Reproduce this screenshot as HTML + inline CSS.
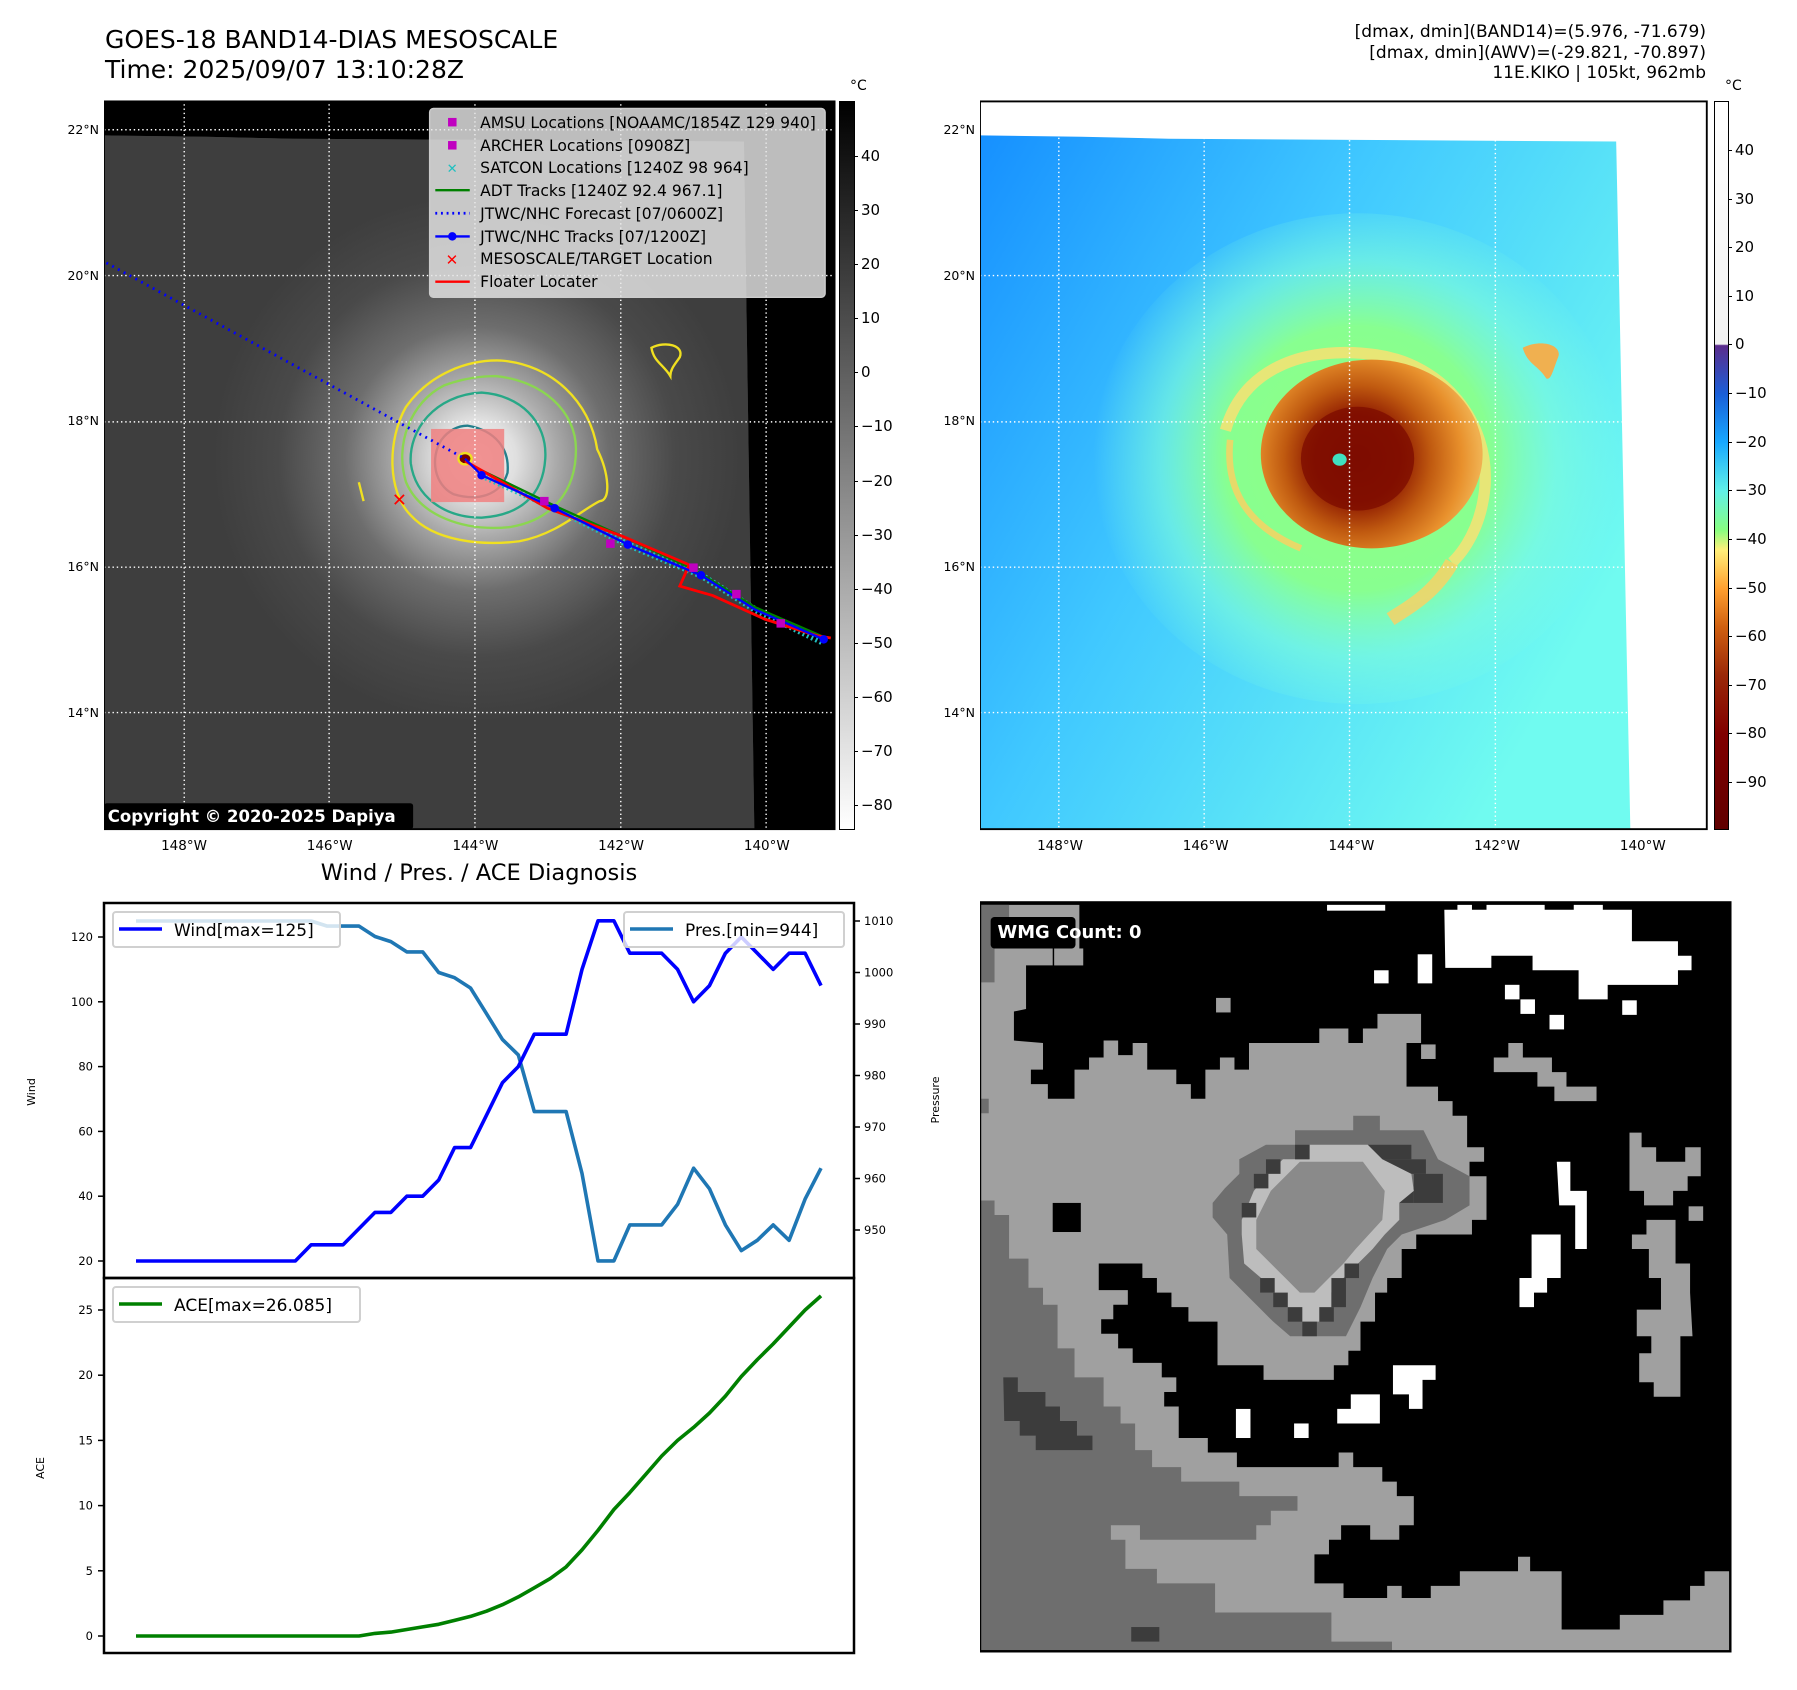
<!DOCTYPE html>
<html><head><meta charset="utf-8">
<style>
html,body{margin:0;padding:0;background:#fff;}
body{width:1797px;height:1690px;position:relative;overflow:hidden;font-family:"Liberation Sans","DejaVu Sans",sans-serif;color:#000;}
.abs{position:absolute;}
.t{position:absolute;white-space:nowrap;font-family:"DejaVu Sans","Liberation Sans",sans-serif;}
</style></head>
<body>
<div class="t" style="left:105px;top:25px;font-size:25px;line-height:30px;">GOES-18 BAND14-DIAS MESOSCALE<br>Time: 2025/09/07 13:10:28Z</div>
<div class="t" style="right:91px;top:22px;font-size:17px;line-height:20.5px;text-align:right;">[dmax, dmin](BAND14)=(5.976, -71.679)<br>[dmax, dmin](AWV)=(-29.821, -70.897)<br>11E.KIKO | 105kt, 962mb</div>

<!-- LEFT MAP -->
<svg class="abs" style="left:104px;top:100px;" width="740" height="740" viewBox="0 0 1568 1568">
<defs>
<radialGradient id="cloud" cx="790" cy="760" r="560" gradientUnits="userSpaceOnUse">
<stop offset="0" stop-color="#ffffff"/><stop offset="0.15" stop-color="#e8e8e8"/><stop offset="0.3" stop-color="#b0b0b0"/><stop offset="0.5" stop-color="#707070"/><stop offset="0.75" stop-color="#4a4a4a"/><stop offset="1" stop-color="#3e3e3e"/></radialGradient>
<clipPath id="lclip"><rect x="0" y="3" width="1548" height="1542"/></clipPath>
</defs>
<g clip-path="url(#lclip)">
<rect x="0" y="3" width="1548" height="1542" fill="#000"/>
<polygon points="0,75 215,78 400,82 1356,88 1378,1545 0,1545" fill="#3e3e3e"/>
<polygon points="0,75 215,78 400,82 1356,88 1378,1545 0,1545" fill="url(#cloud)" opacity="0.95"/>
<g fill="none" stroke-width="5">
<path d="M840,552 C950,560 1030,640 1045,740 C1070,790 1075,850 1050,850 C1010,870 960,920 880,935 C800,945 700,935 650,880 C600,830 600,720 640,650 C690,580 770,550 840,552Z" stroke="#f0e020"/>
<path d="M830,585 C930,595 1000,660 1000,740 C1000,830 950,890 860,905 C760,915 670,880 640,810 C615,730 650,640 720,605 C760,590 800,585 830,585Z" stroke="#8bd650"/>
<path d="M800,620 C880,625 940,680 935,760 C930,840 880,880 800,885 C720,885 660,840 650,770 C645,700 700,625 800,620Z" stroke="#27a887"/>
<path d="M770,690 C830,700 860,740 855,790 C840,840 790,850 740,835 C700,815 690,760 715,720 C730,700 750,690 770,690Z" stroke="#237f8c"/>
<path d="M1160,525 C1190,510 1230,520 1220,545 C1210,560 1200,570 1200,585 C1185,560 1165,555 1160,525Z" stroke="#f0e020"/>
<path d="M540,810 L550,850" stroke="#f0e020"/>
</g>
<rect x="693" y="697" width="155" height="155" fill="#f08080" opacity="0.85"/>
<ellipse cx="765" cy="760" rx="14" ry="12" fill="#7a0000" stroke="#f0e020" stroke-width="5"/>
<g stroke="#fff" stroke-width="3" stroke-dasharray="3,6">
<line x1="170" y1="0" x2="170" y2="1545"/><line x1="477" y1="0" x2="477" y2="1545"/><line x1="786" y1="0" x2="786" y2="1545"/><line x1="1095" y1="0" x2="1095" y2="1545"/><line x1="1403" y1="0" x2="1403" y2="1545"/>
<line x1="0" y1="63" x2="1548" y2="63"/><line x1="0" y1="372" x2="1548" y2="372"/><line x1="0" y1="682" x2="1548" y2="682"/><line x1="0" y1="990" x2="1548" y2="990"/><line x1="0" y1="1298" x2="1548" y2="1298"/>
</g>
<polyline points="5,345 765,760" fill="none" stroke="#0000ff" stroke-width="6" stroke-dasharray="4,10"/>
<polyline points="800,795 955,865 1110,942 1265,1007 1380,1080 1525,1150" fill="none" stroke="#20c0c0" stroke-width="14" stroke-dasharray="4,6"/>
<polyline points="780,775 955,860 1100,925 1250,995 1380,1075 1530,1140" fill="none" stroke="#008000" stroke-width="5"/>
<polyline points="765,765 940,865 1100,925 1240,985 1220,1030 1290,1050 1400,1100 1510,1135 1540,1140" fill="none" stroke="#ff0000" stroke-width="6"/>
<polyline points="765,760 800,795 955,865 1110,942 1265,1007 1380,1080 1525,1143" fill="none" stroke="#0000ff" stroke-width="5"/>
<g fill="#0000ff"><circle cx="800" cy="795" r="9"/><circle cx="955" cy="865" r="9"/><circle cx="1110" cy="942" r="9"/><circle cx="1265" cy="1007" r="9"/><circle cx="1525" cy="1143" r="9"/></g>
<g fill="#c000c0"><rect x="924" y="841" width="18" height="18"/><rect x="1064" y="931" width="18" height="18"/><rect x="1240" y="982" width="18" height="18"/><rect x="1331" y="1038" width="18" height="18"/><rect x="1425" y="1100" width="18" height="18"/></g>
<text x="610" y="860" fill="#ff0000" font-size="38" font-weight="bold" font-family="DejaVu Sans">✕</text>
<g>
<rect x="690" y="18" width="838" height="400" rx="8" fill="#e6e6e6" fill-opacity="0.82" stroke="#cccccc" stroke-width="3"/>
<g font-family="DejaVu Sans, Liberation Sans, sans-serif" font-size="33" fill="#000">
<rect x="729" y="38" width="18" height="18" fill="#c000c0"/><text x="797" y="59">AMSU Locations [NOAAMC/1854Z 129 940]</text>
<rect x="729" y="87" width="18" height="18" fill="#c000c0"/><text x="797" y="108">ARCHER Locations [0908Z]</text>
<text x="726" y="155" fill="#20c0c0" font-weight="bold" font-size="28">✕</text><text x="797" y="155">SATCON Locations [1240Z 98 964]</text>
<line x1="702" y1="191" x2="775" y2="191" stroke="#008000" stroke-width="5"/><text x="797" y="203">ADT Tracks [1240Z 92.4 967.1]</text>
<line x1="702" y1="240" x2="775" y2="240" stroke="#0000ff" stroke-width="6" stroke-dasharray="4,8"/><text x="797" y="252">JTWC/NHC Forecast [07/0600Z]</text>
<line x1="702" y1="289" x2="775" y2="289" stroke="#0000ff" stroke-width="5"/><circle cx="738" cy="289" r="9" fill="#0000ff"/><text x="797" y="301">JTWC/NHC Tracks [07/1200Z]</text>
<text x="724" y="350" fill="#ff0000" font-weight="bold" font-size="32">✕</text><text x="797" y="348">MESOSCALE/TARGET Location</text>
<line x1="702" y1="385" x2="775" y2="385" stroke="#ff0000" stroke-width="5"/><text x="797" y="396">Floater Locater</text>
</g></g>
<rect x="0" y="1490" width="655" height="55" rx="6" fill="#000"/>
<text x="8" y="1530" fill="#fff" font-size="35" font-weight="bold" font-family="DejaVu Sans, Liberation Sans, sans-serif">Copyright © 2020-2025 Dapiya</text>
</g>
<rect x="0" y="3" width="1548" height="1542" fill="none" stroke="#000" stroke-width="4"/>
</svg>

<!-- LEFT COLORBAR -->
<div class="abs" style="left:839px;top:101px;width:14px;height:727px;border:1px solid #000;background:linear-gradient(#000,#fff);"></div>
<div class="t" style="left:850px;top:78px;font-size:14px;">°C</div>
<div id="lcb"></div>

<!-- RIGHT MAP -->
<svg class="abs" style="left:980px;top:100px;" width="740" height="740" viewBox="0 0 1568 1568">
<defs>
<linearGradient id="bg2" x1="0" y1="0" x2="1" y2="0.6"><stop offset="0" stop-color="#1690ff"/><stop offset="0.45" stop-color="#40c8ff"/><stop offset="1" stop-color="#70fbf0"/></linearGradient>
<radialGradient id="glow" cx="800" cy="760" r="560" gradientUnits="userSpaceOnUse"><stop offset="0" stop-color="#90ff80"/><stop offset="0.5" stop-color="#88ff90"/><stop offset="0.75" stop-color="#80ffd8" stop-opacity="0.6"/><stop offset="1" stop-color="#80ffe0" stop-opacity="0"/></radialGradient>
<radialGradient id="core" cx="800" cy="760" r="260" gradientUnits="userSpaceOnUse"><stop offset="0" stop-color="#7a0a00"/><stop offset="0.35" stop-color="#8c1800"/><stop offset="0.6" stop-color="#c05a10"/><stop offset="0.85" stop-color="#e8902c"/><stop offset="1" stop-color="#f0b050"/></radialGradient>
</defs>
<rect x="0" y="3" width="1540" height="1542" fill="#fff"/>
<polygon points="0,75 215,78 400,82 1348,88 1378,1545 0,1545" fill="url(#bg2)"/>
<ellipse cx="800" cy="760" rx="560" ry="520" fill="url(#glow)"/>
<path d="M520,700 C560,560 700,520 840,540 C980,560 1080,680 1070,820 C1060,930 1000,980 1000,980" fill="none" stroke="#ffe070" stroke-width="24" opacity="0.8"/>
<path d="M1000,980 C960,1050 900,1080 870,1100" fill="none" stroke="#ffd060" stroke-width="30" opacity="0.8"/>
<path d="M530,720 C520,820 560,900 680,950" fill="none" stroke="#ffd060" stroke-width="14" opacity="0.8"/>
<ellipse cx="830" cy="750" rx="235" ry="200" fill="url(#core)"/>
<ellipse cx="800" cy="760" rx="120" ry="110" fill="#7e0c00" opacity="0.8"/>
<ellipse cx="762" cy="762" rx="15" ry="13" fill="#40e0c0"/>
<path d="M1150,525 C1190,505 1235,520 1225,545 C1215,570 1210,595 1200,590 C1180,560 1160,560 1150,525Z" fill="#f0b050"/>
<g stroke="#fff" stroke-width="3" stroke-dasharray="3,6">
<line x1="167" y1="80" x2="167" y2="1545"/><line x1="475" y1="80" x2="475" y2="1545"/><line x1="783" y1="85" x2="783" y2="1545"/><line x1="1092" y1="85" x2="1092" y2="1545"/>
<line x1="0" y1="372" x2="1355" y2="372"/><line x1="0" y1="682" x2="1360" y2="682"/><line x1="0" y1="990" x2="1365" y2="990"/><line x1="0" y1="1298" x2="1372" y2="1298"/>
</g>
<rect x="0" y="3" width="1540" height="1542" fill="none" stroke="#000" stroke-width="4"/>
</svg>

<div class="abs" style="left:1714px;top:101px;width:13px;height:727px;border:1px solid #000;background:linear-gradient(#ffffff 0%,#f2f2f2 33.3%,#5b2c8c 33.5%,#1a5fd8 40.2%,#18a8ff 46.8%,#60f0e8 53.5%,#88ff80 58.9%,#fff07a 61.6%,#ffa030 66.9%,#d06010 72.2%,#9a2808 78.9%,#800000 87%,#600000 100%);"></div>
<div class="t" style="left:1725px;top:78px;font-size:14px;">°C</div>
<div id="rcb"></div>
<div id="maplabels"></div>

<div class="t" style="left:479px;top:860px;font-size:22.5px;transform:translateX(-50%);">Wind / Pres. / ACE Diagnosis</div>

<svg class="abs" id="chart" style="left:0;top:880px;" width="980" height="800"></svg>

<!-- WMG PANEL -->
<svg class="abs" style="left:980px;top:900px;" width="760" height="760" viewBox="0 0 1568 1568">
<rect x="0" y="5" width="1548" height="1545" fill="#000"/>
<g fill="#a0a0a0">
<polygon points="60,10 205,10 205,100 150,100 150,135 95,135 95,225 70,230 70,290 130,295 130,350 105,350 105,380 140,380 140,410 195,410 195,350 225,350 225,325 255,325 255,290 285,290 285,320 315,320 315,295 345,295 345,350 405,350 405,380 435,380 435,410 465,410 465,350 495,350 495,325 525,325 525,350 555,350 555,295 700,295 700,265 760,265 760,295 790,295 790,265 820,265 820,235 910,235 910,295 880,295 880,385 945,385 945,415 975,415 975,445 1005,445 1005,510 1040,510 1040,540 1010,540 1010,570 1045,570 1045,660 1015,660 1015,690 900,690 900,720 870,720 870,780 840,780 840,810 815,810 815,870 785,870 785,930 760,930 760,960 730,960 730,990 585,990 585,960 490,960 490,870 430,870 430,840 395,840 395,810 365,810 365,780 335,780 335,750 245,750 245,805 305,805 305,835 275,835 275,865 250,865 250,895 285,895 285,925 315,925 315,955 375,955 375,985 405,985 405,1015 380,1015 380,1045 410,1045 410,1110 470,1110 470,1140 530,1140 530,1170 740,1170 740,1140 770,1140 770,1170 830,1170 830,1200 860,1200 860,1230 895,1230 895,1290 865,1290 865,1320 805,1320 805,1290 745,1290 745,1320 720,1320 720,1350 690,1350 690,1410 750,1410 750,1440 840,1440 840,1415 870,1415 870,1440 930,1440 930,1415 990,1415 990,1385 1110,1385 1110,1355 1135,1355 1135,1385 1200,1385 1200,1505 1320,1505 1320,1475 1410,1475 1410,1445 1465,1445 1465,1415 1495,1415 1495,1385 1548,1385 1548,1550 0,1550 0,10"/>
<polygon points="1340,480 1365,480 1365,510 1395,510 1395,540 1455,540 1455,510 1487,510 1487,570 1460,570 1460,600 1430,600 1430,630 1370,630 1370,600 1340,600"/>
<polygon points="1375,660 1435,660 1435,750 1465,750 1465,810 1470,900 1445,900 1445,1025 1390,1025 1390,995 1360,995 1360,935 1385,935 1385,900 1355,900 1355,845 1405,845 1405,780 1380,780 1380,720 1345,720 1345,690 1375,690"/>
<polygon points="1090,295 1120,295 1120,325 1180,325 1180,355 1210,355 1210,385 1272,385 1272,415 1185,415 1185,385 1150,385 1150,355 1060,355 1060,325 1090,325"/>
<rect x="1462" y="632" width="30" height="30"/><rect x="910" y="298" width="30" height="30"/><rect x="487" y="202" width="30" height="30"/><rect x="153" y="100" width="60" height="35"/>
</g>
<g fill="#6e6e6e">
<polygon points="0,10 60,10 60,60 30,60 30,170 0,170"/>
<rect x="0" y="410" width="18" height="30"/>
<polygon points="0,620 30,620 30,650 60,650 60,740 100,740 100,800 130,800 130,835 160,835 160,925 195,925 195,985 255,985 255,1045 290,1045 290,1080 320,1080 320,1135 355,1135 355,1170 415,1170 415,1200 535,1200 535,1230 655,1230 655,1260 600,1260 600,1290 570,1290 570,1320 330,1320 330,1290 270,1290 270,1320 300,1320 300,1380 365,1380 365,1410 485,1410 485,1470 725,1470 725,1530 850,1530 850,1550 0,1550"/>
<polygon points="650,475 770,475 770,445 825,445 825,475 915,475 945,535 1010,570 1010,630 960,660 870,690 840,720 810,780 785,840 755,900 640,900 605,870 575,840 545,810 515,780 510,690 480,655 480,625 505,595 535,565 535,535 590,505 650,505"/>
</g>
<g fill="#3c3c3c">
<polygon points="48,985 78,985 78,1015 135,1015 135,1045 165,1045 165,1075 200,1075 200,1105 232,1105 232,1135 115,1135 115,1105 82,1105 82,1075 50,1075"/>
<rect x="312" y="1500" width="58" height="30"/>
<rect x="800" y="505" width="90" height="30"/><rect x="830" y="535" width="90" height="30"/><rect x="895" y="565" width="60" height="60"/><rect x="865" y="595" width="30" height="30"/>
</g>
<polygon points="680,505 800,505 830,535 890,565 895,600 865,625 865,660 835,690 810,720 780,750 750,780 725,810 725,840 700,870 665,870 635,840 605,810 580,780 545,750 540,690 540,660 565,600 595,565 625,535 680,535" fill="#bdbdbd"/>
<polygon points="660,540 790,540 835,600 830,660 775,720 750,750 720,780 690,810 660,810 630,780 600,750 570,720 570,660 600,600" fill="#8a8a8a"/>
<g fill="#3c3c3c"><rect x="650" y="505" width="30" height="30"/><rect x="590" y="535" width="30" height="30"/><rect x="565" y="565" width="30" height="30"/><rect x="540" y="625" width="30" height="30"/><rect x="752" y="750" width="30" height="30"/><rect x="725" y="780" width="30" height="60"/><rect x="605" y="810" width="30" height="30"/><rect x="635" y="840" width="30" height="30"/><rect x="700" y="840" width="30" height="30"/><rect x="665" y="870" width="30" height="30"/><rect x="578" y="780" width="30" height="30"/></g>
<rect x="150" y="625" width="58" height="60" fill="#000"/>
<g fill="#fff">
<polygon points="958,20 985,20 985,10 1015,10 1015,20 1045,20 1045,10 1165,10 1165,20 1225,20 1225,10 1285,10 1285,20 1345,20 1345,85 1440,85 1440,115 1468,115 1468,145 1440,145 1440,175 1295,175 1295,205 1235,205 1235,145 1140,145 1140,115 1055,115 1055,140 960,140"/>
<rect x="716" y="10" width="120" height="12"/><rect x="903" y="112" width="30" height="60"/><rect x="813" y="145" width="30" height="27"/><rect x="1083" y="175" width="30" height="30"/><rect x="1115" y="205" width="30" height="30"/><rect x="1175" y="237" width="30" height="30"/><rect x="1325" y="207" width="30" height="30"/>
<polygon points="1190,540 1218,540 1218,600 1252,600 1252,720 1228,720 1228,630 1195,630"/>
<polygon points="1138,690 1198,690 1198,780 1170,780 1170,810 1143,810 1143,840 1113,840 1113,780 1138,780"/>
<polygon points="852,960 940,960 940,990 913,990 913,1050 885,1050 885,1020 852,1020"/>
<polygon points="765,1020 825,1020 825,1080 737,1080 737,1050 765,1050"/>
<rect x="528" y="1050" width="30" height="60"/><rect x="648" y="1080" width="30" height="30"/>
</g>
<rect x="22" y="35" width="175" height="65" rx="8" fill="#000"/>
<text x="36" y="78" fill="#fff" font-size="37" font-weight="bold" font-family="DejaVu Sans, Liberation Sans, sans-serif">WMG Count: 0</text>
<rect x="0" y="5" width="1548" height="1545" fill="none" stroke="#000" stroke-width="5"/>
</svg>

<script>
const windValues = [20,20,20,20,20,20,20,20,20,20,20,25,25,25,30,35,35,40,40,45,55,55,65,75,80,90,90,90,110,125,125,115,115,115,110,100,105,115,120,115,110,115,115,105];
const presValues = [1010,1010,1010,1010,1010,1010,1010,1010,1010,1010,1010,1010,1009,1009,1009,1007,1006,1004,1004,1000,999,997,992,987,984,973,973,973,961,944,944,951,951,951,955,962,958,951,946,948,951,948,956,962];
const aceValues = [0,0,0,0,0,0,0,0,0,0,0,0,0,0,0,0.2,0.3,0.5,0.7,0.9,1.2,1.5,1.9,2.4,3.0,3.7,4.4,5.3,6.6,8.1,9.7,11.0,12.4,13.8,15.0,16.0,17.1,18.4,19.9,21.2,22.4,23.7,25.0,26.085];
const windTicks = [20,40,60,80,100,120];
const presTicks = [950,960,970,980,990,1000,1010];
const aceTicks = [0,5,10,15,20,25];
const irCbTicks = [40,30,20,10,0,-10,-20,-30,-40,-50,-60,-70,-80];
const awvCbTicks = [40,30,20,10,0,-10,-20,-30,-40,-50,-60,-70,-80,-90];
const latLabels = ["22°N","20°N","18°N","16°N","14°N"];
const lonLabels = ["148°W","146°W","144°W","142°W","140°W"];

const NS="http://www.w3.org/2000/svg";
const OY=880;
const xOf=i=>136+i*(821-136)/(windValues.length-1);
const yWind=v=>937-OY+(120-v)*(1261-937)/100;
const yPres=v=>921-OY+(1010-v)*(1230-921)/60;
const yAce=v=>1636-OY-v*(1636-1310)/25;
const svg=document.getElementById('chart');
function mk(tag,attrs,parent){const e=document.createElementNS(NS,tag);for(const k in attrs)e.setAttribute(k,attrs[k]);(parent||svg).appendChild(e);return e;}
function txt(x,y,s,size,anchor,parent){const e=mk('text',{x:x,y:y,'font-size':size,'text-anchor':anchor||'start','font-family':'DejaVu Sans, Liberation Sans, sans-serif'},parent);e.textContent=s;return e;}

const f1=mk('rect',{x:104,y:903-OY,width:750,height:375,fill:'none',stroke:'#000','stroke-width':2.5});


const f2=mk('rect',{x:104,y:1278-OY,width:750,height:375,fill:'none',stroke:'#000','stroke-width':2.5});



windTicks.forEach(v=>{const y=yWind(v);mk('line',{x1:98,x2:104,y1:y,y2:y,stroke:'#000','stroke-width':1.5});const t=txt(93,y+4,String(v),11.5,'end');

});
presTicks.forEach(v=>{const y=yPres(v);mk('line',{x1:854,x2:860,y1:y,y2:y,stroke:'#000','stroke-width':1.5});const t=txt(864,y+4,String(v),11.5,'start');

});
aceTicks.forEach(v=>{const y=yAce(v);mk('line',{x1:98,x2:104,y1:y,y2:y,stroke:'#000','stroke-width':1.5});const t=txt(93,y+4,String(v),11.5,'end');

});

function axTitle(x,y,s,name){const t=txt(0,0,s,11,'middle');t.setAttribute('transform','translate('+x+','+y+') rotate(-90)');

}
axTitle(35,1092-OY,'Wind','wind-axis-title');
axTitle(939,1100-OY,'Pressure','pressure-axis-title');
axTitle(44,1468-OY,'ACE','ace-axis-title');

function line(vals,yf,color,name){const p=vals.map((v,i)=>xOf(i).toFixed(1)+','+yf(v).toFixed(1)).join(' ');const l=mk('polyline',{points:p,fill:'none',stroke:color,'stroke-width':3.6,'stroke-linejoin':'round'});

}
line(presValues,yPres,'#1f77b4','pressure-line');
line(windValues,yWind,'#0000ff','wind-line');
line(aceValues,yAce,'#008000','ace-line');

function legend(x,y,w,label,color,name){const g=mk('g',{});


mk('rect',{x:x,y:y,width:w,height:35,rx:3,fill:'#fff','fill-opacity':0.8,stroke:'#d0d0d0','stroke-width':2},g);
mk('line',{x1:x+6,x2:x+49,y1:y+17,y2:y+17,stroke:color,'stroke-width':3.6},g);
txt(x+61,y+24,label,17,'start',g);}
legend(113,912-OY,227,'Wind[max=125]','#0000ff','wind-legend');
legend(624,912-OY,220,'Pres.[min=944]','#1f77b4','pressure-legend');
legend(113,1287-OY,247,'ACE[max=26.085]','#008000','ace-legend');

function cbTicks(container,ticks,x,yf,name){const c=document.getElementById(container);ticks.forEach(v=>{const y=yf(v);
const tk=document.createElement('div');tk.className='abs';tk.style.cssText='left:'+x+'px;top:'+y+'px;width:4px;height:1px;background:#000;';c.appendChild(tk);
const d=document.createElement('div');d.className='t';d.style.cssText='left:'+(x+7)+'px;top:'+(y-9)+'px;font-size:15px;';d.textContent=(v<0?'\u2212'+(-v):String(v));


c.appendChild(d);});}
cbTicks('lcb',irCbTicks,854,v=>156+(40-v)*(805-156)/120,'ir-colorbar-tick');
cbTicks('rcb',awvCbTicks,1728,v=>150+(40-v)*(782-150)/130,'awv-colorbar-tick');

const ml=document.getElementById('maplabels');
[[104],[980]].forEach(([mx])=>{
latLabels.forEach((s,i)=>{const d=document.createElement('div');d.className='t';const y=130+i*145.7;d.style.cssText='left:'+(mx-50)+'px;top:'+(y-8)+'px;font-size:12.5px;width:45px;text-align:right;';d.textContent=s;


ml.appendChild(d);});
lonLabels.forEach((s,i)=>{const d=document.createElement('div');d.className='t';const x=mx+80+i*145.7;d.style.cssText='left:'+(x-30)+'px;top:838px;font-size:13.5px;width:60px;text-align:center;';d.textContent=s;


ml.appendChild(d);});
});
</script>
</body></html>
